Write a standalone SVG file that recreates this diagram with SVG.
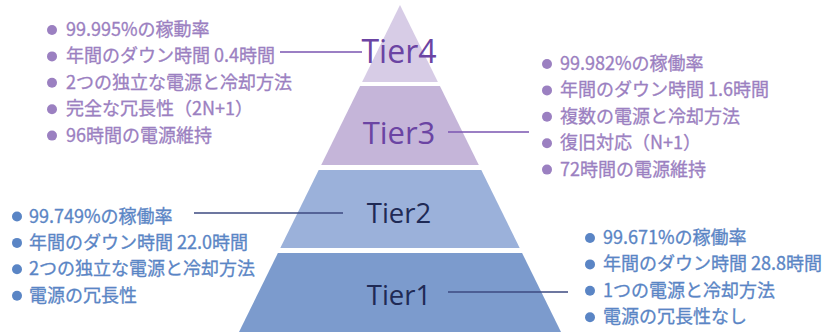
<svg xmlns="http://www.w3.org/2000/svg" width="835" height="334" viewBox="0 0 835 334">
<style>
.lbl{font-family:"Open Sans","Noto Sans",sans-serif;text-anchor:middle}
.p{fill:#6b44a3}
.b{fill:#1f2a55}
.t{font-family:"Noto Sans CJK JP","Noto Sans",sans-serif;font-size:18px;stroke-width:0.3}
.tp{fill:#9b80c1;stroke:#9b80c1}
.tb{fill:#5a85c5;stroke:#5a85c5}
.tp circle,.tb circle{stroke:none}
.cp{stroke:#7a55b0;stroke-width:1.3;fill:none}
.cb{stroke:#3c4a80;stroke-width:1.3;fill:none}
</style>
<rect width="835" height="334" fill="#ffffff"/>
<g id="tier4">
<polygon points="400,5 437.9,82 362.1,82" fill="#d7cce6"/>
<text class="lbl p" x="399" y="63" font-size="32">Tier4</text>
</g>
<g id="tier3">
<polygon points="360.1,86 439.9,86 478.8,165 321.2,165" fill="#c5b5d9"/>
<text class="lbl p" x="399" y="144" font-size="31">Tier3</text>
</g>
<g id="tier2">
<polygon points="318.7,170 481.3,170 519.7,248 280.3,248" fill="#9bb1da"/>
<text class="lbl b" x="399" y="223" font-size="27.5">Tier2</text>
</g>
<g id="tier1">
<polygon points="277.9,253 522.1,253 561,332 239,332" fill="#7c9bcd"/>
<text class="lbl b" x="399" y="305" font-size="27.5">Tier1</text>
</g>
<g id="connectors">
<line class="cp" x1="280" y1="52" x2="362" y2="52"/>
<line class="cp" x1="448" y1="132" x2="529" y2="132"/>
<line class="cb" x1="194" y1="213" x2="343" y2="213"/>
<line class="cb" x1="448" y1="292" x2="568" y2="292"/>
</g>
<g id="tier4-notes" class="tp">
<circle cx="52" cy="30" r="5"/><circle cx="52" cy="56.4" r="5"/><circle cx="52" cy="82.8" r="5"/><circle cx="52" cy="109.2" r="5"/><circle cx="52" cy="135.6" r="5"/>
<text class="t" x="66" y="36">99.995%の稼動率</text>
<text class="t" x="66" y="62.4">年間のダウン時間 0.4時間</text>
<text class="t" x="66" y="88.8">2つの独立な電源と冷却方法</text>
<text class="t" x="66" y="115.2">完全な冗長性（2N+1）</text>
<text class="t" x="66" y="141.6">96時間の電源維持</text>
</g>
<g id="tier3-notes" class="tp">
<circle cx="547" cy="64" r="5"/><circle cx="547" cy="90.4" r="5"/><circle cx="547" cy="116.8" r="5"/><circle cx="547" cy="143.2" r="5"/><circle cx="547" cy="169.6" r="5"/>
<text class="t" x="560" y="70">99.982%の稼働率</text>
<text class="t" x="560" y="96.4">年間のダウン時間 1.6時間</text>
<text class="t" x="560" y="122.8">複数の電源と冷却方法</text>
<text class="t" x="560" y="149.2">復旧対応（N+1）</text>
<text class="t" x="560" y="175.6">72時間の電源維持</text>
</g>
<g id="tier2-notes" class="tb">
<circle cx="17" cy="216.5" r="5"/><circle cx="17" cy="242.9" r="5"/><circle cx="17" cy="269.3" r="5"/><circle cx="17" cy="295.7" r="5"/>
<text class="t" x="29" y="222.5">99.749%の稼働率</text>
<text class="t" x="29" y="248.9">年間のダウン時間 22.0時間</text>
<text class="t" x="29" y="275.3">2つの独立な電源と冷却方法</text>
<text class="t" x="29" y="301.7">電源の冗長性</text>
</g>
<g id="tier1-notes" class="tb">
<circle cx="590" cy="238" r="5"/><circle cx="590" cy="264.4" r="5"/><circle cx="590" cy="290.8" r="5"/><circle cx="590" cy="317.2" r="5"/>
<text class="t" x="603" y="244">99.671%の稼働率</text>
<text class="t" x="603" y="270.4">年間のダウン時間 28.8時間</text>
<text class="t" x="603" y="296.8">1つの電源と冷却方法</text>
<text class="t" x="603" y="323.2">電源の冗長性なし</text>
</g>
</svg>
